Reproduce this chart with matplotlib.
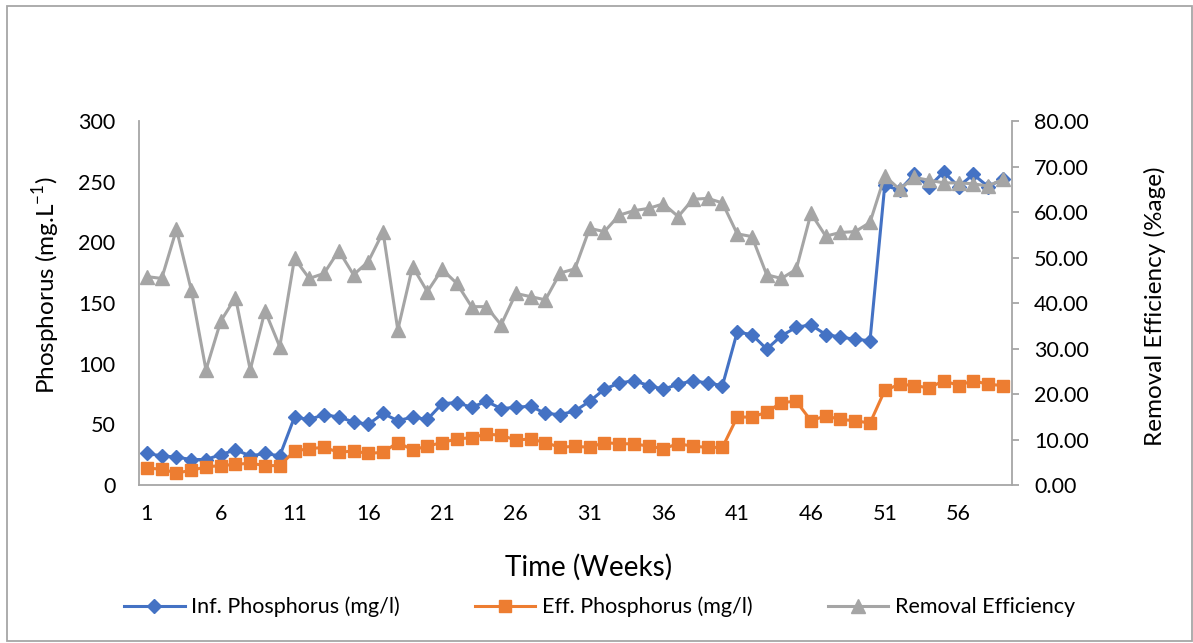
#!/usr/bin/env python3

# Phosphorus removal over time: influent / effluent (left) and efficiency (right)

import numpy as np
import matplotlib.pyplot as plt
from matplotlib.patches import Rectangle

weeks = list(range(1, 60))

inf_p = [26, 24, 23, 21, 21, 25, 29, 24, 26, 24,
         56, 54, 58, 56, 52, 50, 59, 53, 56, 54,
         67, 68, 64, 69, 63, 64, 65, 59, 58, 61,
         69, 79, 84, 86, 82, 79, 83, 86, 84, 82,
         126, 124, 112, 123, 130, 132, 124, 122, 120, 119,
         247, 243, 256, 246, 258, 246, 256, 246, 252]

eff_p = [14, 13, 10, 12, 15, 16, 17, 18, 16, 16,
         28, 30, 31, 27, 28, 26, 27, 35, 29, 32,
         35, 38, 39, 42, 41, 37, 38, 35, 31, 32,
         31, 35, 34, 34, 32, 30, 34, 32, 31, 31,
         56, 56, 60, 68, 69, 53, 57, 54, 53, 51,
         78, 83, 82, 80, 86, 82, 86, 83, 82]

removal = [45.8, 45.4, 56.2, 42.9, 25.3, 36.0, 41.2, 25.3, 38.3, 30.4,
           49.8, 45.4, 46.5, 51.5, 46.2, 49.1, 55.6, 34.1, 48.0, 42.5,
           47.4, 44.3, 39.2, 39.2, 35.2, 42.1, 41.4, 40.7, 46.6, 47.5,
           56.4, 55.7, 59.3, 60.3, 60.8, 61.8, 59.0, 62.8, 63.0, 62.0,
           55.2, 54.6, 46.2, 45.4, 47.4, 59.7, 54.7, 55.5, 55.7, 57.7,
           67.9, 65.0, 67.6, 67.0, 66.4, 66.4, 66.2, 65.7, 67.2]

xticks = list(range(1, 57, 5))

plt.rcParams['font.family'] = ['Lato', 'DejaVu Sans']
grey = '#a6a6a6'

fig = plt.figure(figsize=(11.93, 6.43), dpi=100, facecolor='white')
ax = fig.add_axes([0.1165, 0.2457, 0.848 - 0.1165, 0.8118 - 0.2457])
ax2 = ax.twinx()

l1, = ax.plot(weeks, inf_p, color='#4472c4', lw=2.2, marker='D', ms=7.5,
              label='Inf. Phosphorus (mg/l)')
l2, = ax.plot(weeks, eff_p, color='#ed7d31', lw=2.2, marker='s', ms=9,
              label='Eff. Phosphorus (mg/l)')
l3, = ax2.plot(weeks, removal, color='#a5a5a5', lw=2.2, marker='^', ms=10.5,
               label='Removal Efficiency')

ax.set_xlim(0.46, 59.6)
ax.set_ylim(0, 300)
ax2.set_ylim(0, 80)
ax.set_xticks(xticks)
ax.set_yticks(np.arange(0, 301, 50))
ax2.set_yticks(np.arange(0, 81, 10))
ax2.set_yticklabels(['%.2f' % v for v in np.arange(0, 81, 10)])

for a in (ax, ax2):
    a.spines['top'].set_visible(False)
    for s in a.spines.values():
        s.set_color(grey)
        s.set_linewidth(1.3)
ax.spines['right'].set_visible(False)
ax2.spines['left'].set_visible(False)
ax2.spines['bottom'].set_visible(False)

ax.tick_params(axis='y', length=0, pad=17, labelsize=15.5)
ax.tick_params(axis='x', length=0, pad=14, labelsize=15.5)
ax2.tick_params(axis='y', length=5, width=1.3, color=grey, pad=11, labelsize=15.5)

ax.set_ylabel(r'Phosphorus (mg.L$^{\mathregular{-1}}$)', fontsize=17.5)
ax.yaxis.set_label_coords(-0.088, 0.55)
ax2.set_ylabel('Removal Efficiency (%age)', fontsize=17.5)
ax2.yaxis.set_label_coords(1.151, 0.49)
ax.set_xlabel('Time (Weeks)', fontsize=20)
ax.xaxis.set_label_coords(0.515, -0.19)

fig.legend(handles=[l1, l2, l3], loc='center left', bbox_to_anchor=(0.088, 0.056),
           ncol=3, frameon=False, fontsize=15.5, handlelength=2.8,
           columnspacing=3.5, handletextpad=0.3)

fig.add_artist(Rectangle((7 / 1193, 2 / 643), 1185 / 1193, 635 / 643,
                         transform=fig.transFigure, fill=False,
                         edgecolor=grey, lw=1.3))

plt.savefig('out.png', dpi=100)
